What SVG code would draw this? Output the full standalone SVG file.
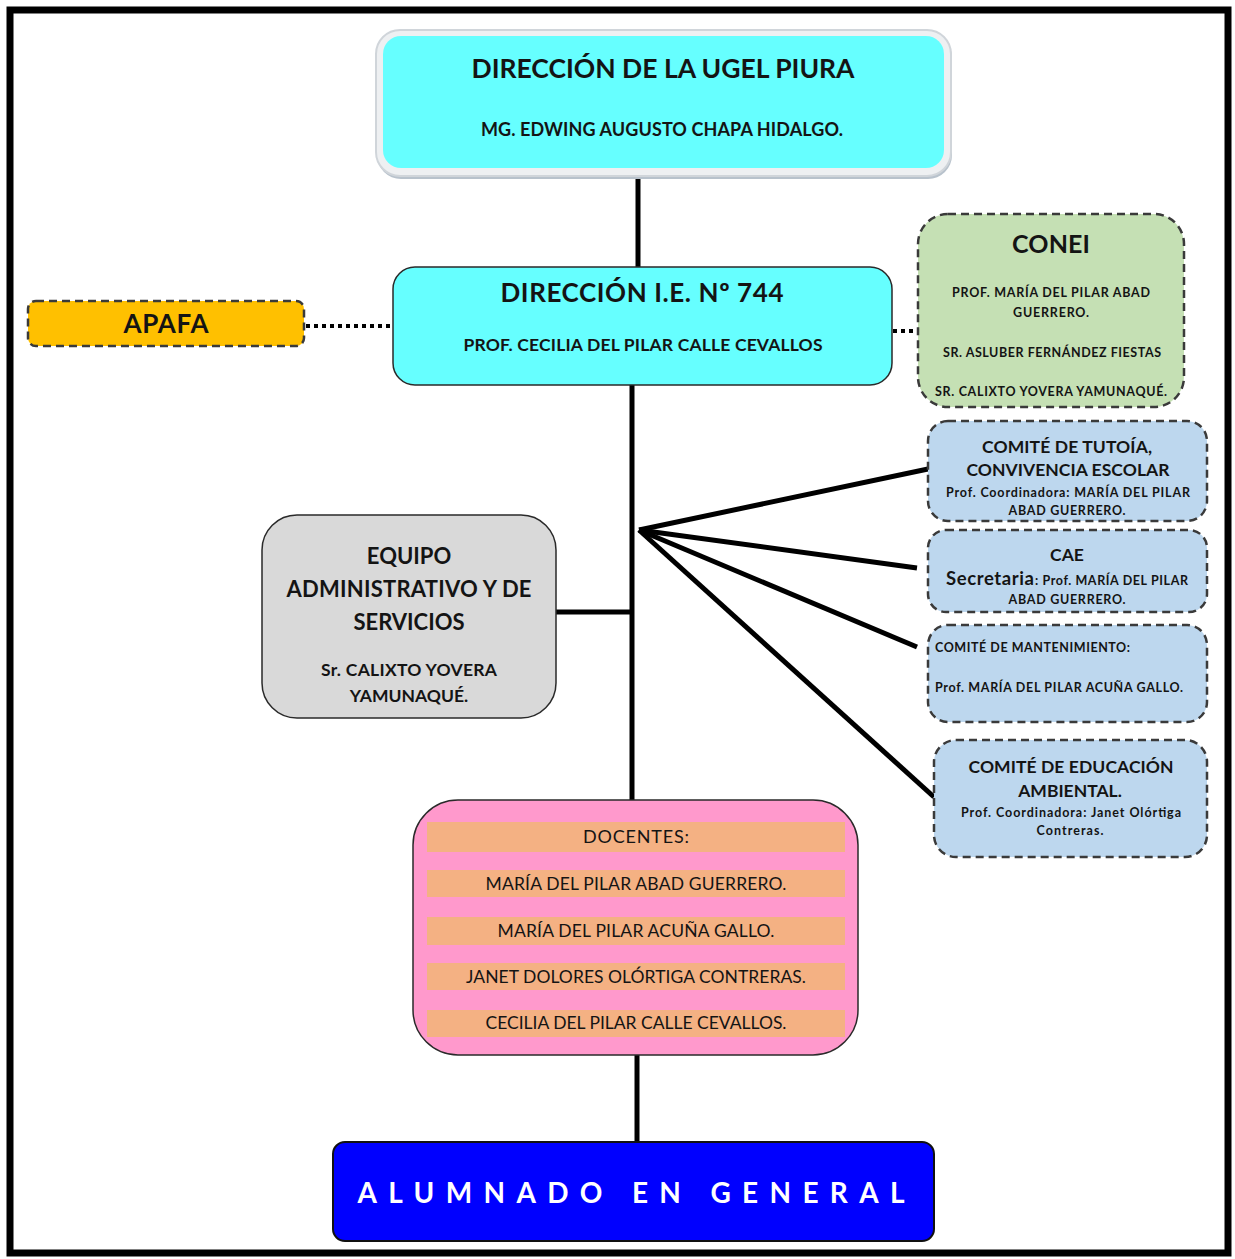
<svg xmlns="http://www.w3.org/2000/svg" width="1235" height="1259" viewBox="0 0 1235 1259">
<defs>
<style>
text{font-family:Lato,"Open Sans","Liberation Sans",sans-serif;fill:#141414;text-anchor:middle}
.b{font-weight:bold}
.l{text-anchor:start}
.dash{stroke:#3a3a3a;stroke-width:2.5;stroke-dasharray:8 5}
.solid{stroke:#2a2a2a;stroke-width:1.5}
.conn{stroke:#000;stroke-width:5;fill:none}
.dot{stroke:#000;stroke-width:4;stroke-dasharray:4 4;fill:none}
.bar{fill:#F4B183}
</style>
</defs>
<rect x="0" y="0" width="1235" height="1259" fill="#fff"/>
<rect x="10" y="10" width="1218" height="1243" fill="none" stroke="#000" stroke-width="7"/>

<g id="connectors">
<line class="conn" x1="638" y1="170" x2="638" y2="268"/>
<line class="conn" x1="632" y1="385" x2="632" y2="801" stroke-width="6"/>
<line class="conn" x1="556" y1="612" x2="632" y2="612"/>
<line class="conn" x1="639" y1="530" x2="928" y2="469" stroke-width="4"/>
<line class="conn" x1="639" y1="530" x2="917" y2="568" stroke-width="4"/>
<line class="conn" x1="639" y1="530" x2="917" y2="647" stroke-width="4"/>
<line class="conn" x1="639" y1="530" x2="934" y2="797" stroke-width="4"/>
<line class="conn" x1="637" y1="1055" x2="637" y2="1143"/>
<line class="dot" x1="306" y1="326" x2="393" y2="326"/>
<line class="dot" x1="893" y1="331" x2="918" y2="331"/>
</g>

<g id="ugel">
<rect x="377" y="33" width="575" height="146" rx="24" fill="#B8C2CC"/>
<rect x="376" y="30" width="575" height="146" rx="24" fill="#EEF0F2" stroke="#D0D5DA" stroke-width="2"/>
<rect x="383" y="36" width="561" height="132" rx="18" fill="#66FFFF"/>
<text class="b" x="663" y="78" font-size="26.5" textLength="383">DIRECCIÓN DE LA UGEL PIURA</text>
<text class="b" x="662" y="136" font-size="18" textLength="362">MG. EDWING AUGUSTO CHAPA HIDALGO.</text>
</g>

<g id="direccion-ie">
<rect x="393" y="267" width="499" height="118" rx="22" fill="#66FFFF" class="solid"/>
<text class="b" x="642" y="302" font-size="26" textLength="283">DIRECCIÓN I.E. Nº 744</text>
<text class="b" x="643" y="351" font-size="17.5" textLength="359">PROF. CECILIA DEL PILAR CALLE CEVALLOS</text>
</g>

<g id="apafa">
<rect x="28" y="301" width="276" height="45" rx="8" fill="#FFC000" class="dash"/>
<text class="b" x="166" y="333" font-size="26" textLength="85">APAFA</text>
</g>

<g id="conei">
<rect x="918" y="214" width="266" height="193" rx="30" fill="#C5E0B4" class="dash"/>
<text class="b" x="1051" y="253" font-size="25" textLength="78">CONEI</text>
<text class="b" x="1051" y="297" font-size="12.5" textLength="198">PROF. MARÍA DEL PILAR ABAD</text>
<text class="b" x="1051" y="317" font-size="12.5" textLength="76">GUERRERO.</text>
<text class="b" x="1052" y="357" font-size="12.5" textLength="218">SR. ASLUBER FERNÁNDEZ FIESTAS</text>
<text class="b" x="1051" y="396" font-size="12.5" textLength="232">SR. CALIXTO YOVERA YAMUNAQUÉ.</text>
</g>

<g id="equipo">
<rect x="262" y="515" width="294" height="203" rx="35" fill="#D9D9D9" class="solid"/>
<text class="b" x="409" y="564" font-size="22">EQUIPO</text>
<text class="b" x="409" y="597" font-size="22" textLength="245">ADMINISTRATIVO Y DE</text>
<text class="b" x="409" y="630" font-size="22">SERVICIOS</text>
<text class="b" x="409" y="676" font-size="17.5" textLength="176">Sr. CALIXTO YOVERA</text>
<text class="b" x="409" y="702" font-size="17.5">YAMUNAQUÉ.</text>
</g>

<g id="tutoria">
<rect x="928" y="421" width="279" height="100" rx="20" fill="#BDD7EE" class="dash"/>
<text class="b" x="1067" y="453" font-size="17.5" textLength="170">COMITÉ DE TUTOÍA,</text>
<text class="b" x="1068" y="476" font-size="17.5" textLength="203">CONVIVENCIA ESCOLAR</text>
<text class="b" x="1068" y="497" font-size="12.5" textLength="244">Prof. Coordinadora: MARÍA DEL PILAR</text>
<text class="b" x="1067" y="515" font-size="12.5" textLength="117">ABAD GUERRERO.</text>
</g>

<g id="cae">
<rect x="928" y="530" width="279" height="82" rx="18" fill="#BDD7EE" class="dash"/>
<text class="b" x="1067" y="561" font-size="17.5">CAE</text>
<text class="b l" x="946" y="585" font-size="18.5" textLength="88">Secretaria</text>
<text class="b l" x="1035" y="585" font-size="12.5" textLength="153">: Prof. MARÍA DEL PILAR</text>
<text class="b" x="1067" y="604" font-size="12.5" textLength="117">ABAD GUERRERO.</text>
</g>

<g id="mantenimiento">
<rect x="928" y="625" width="279" height="97" rx="20" fill="#BDD7EE" class="dash"/>
<text class="b l" x="935" y="652" font-size="12.5" textLength="195">COMITÉ DE MANTENIMIENTO:</text>
<text class="b l" x="935" y="692" font-size="12.5" textLength="248">Prof. MARÍA DEL PILAR ACUÑA GALLO.</text>
</g>

<g id="ambiental">
<rect x="934" y="740" width="273" height="117" rx="22" fill="#BDD7EE" class="dash"/>
<text class="b" x="1071" y="773" font-size="17.5" textLength="205">COMITÉ DE EDUCACIÓN</text>
<text class="b" x="1070" y="797" font-size="17.5">AMBIENTAL.</text>
<text class="b" x="1071" y="817" font-size="12.5" textLength="220">Prof. Coordinadora: Janet Olórtiga</text>
<text class="b" x="1070" y="835" font-size="12.5" textLength="67">Contreras.</text>
</g>

<g id="docentes">
<rect x="413" y="800" width="445" height="255" rx="45" fill="#FF99CC" class="solid"/>
<rect class="bar" x="427" y="822" width="418" height="30"/>
<rect class="bar" x="427" y="870" width="418" height="27"/>
<rect class="bar" x="427" y="917" width="418" height="28"/>
<rect class="bar" x="427" y="963" width="418" height="27"/>
<rect class="bar" x="427" y="1010" width="418" height="27"/>
<text x="636" y="843" font-size="18" textLength="106">DOCENTES:</text>
<text x="636" y="890" font-size="17.5" textLength="301">MARÍA DEL PILAR ABAD GUERRERO.</text>
<text x="636" y="937" font-size="17.5" textLength="277">MARÍA DEL PILAR ACUÑA GALLO.</text>
<text x="636" y="983" font-size="17.5" textLength="340">JANET DOLORES OLÓRTIGA CONTRERAS.</text>
<text x="636" y="1029" font-size="17.5" textLength="301">CECILIA DEL PILAR CALLE CEVALLOS.</text>
</g>

<g id="alumnado">
<rect x="333" y="1142" width="601" height="99" rx="12" fill="#0000FF" stroke="#111" stroke-width="2"/>
<text class="b" x="631" y="1203" font-size="28" textLength="547" style="fill:#fff">ALUMNADO EN GENERAL</text>
</g>
</svg>
